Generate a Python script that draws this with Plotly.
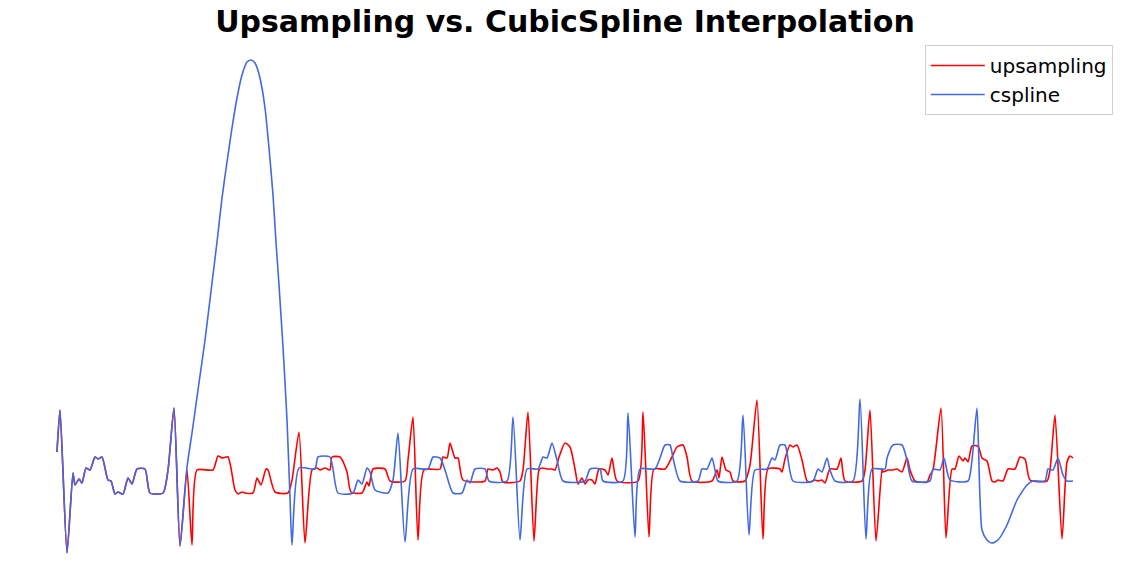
import plotly.graph_objects as go

# Shared opening segment (both methods coincide here)
x_common = [0, 3, 10, 16, 18, 22, 25, 29, 33, 38, 41, 45, 51, 54, 58, 61, 66, 71, 75, 80,
            88, 93, 106, 111, 117, 123]
y_common = [29, 71, -72, 8, -4, 2, -2, 13, 11, 24, 22, 24, 1, 0, -13, -11, -13, 3, -3, 12,
            12, -12, -12, 11, 73, -65]

# upsampling tail
up_x = [130, 135, 140, 156, 161, 165, 171, 178, 181, 185, 188, 196, 200, 204, 209, 211, 218,
        231, 235, 242, 248, 255, 260, 263, 268, 273, 275, 283, 290, 294, 305, 310, 312, 316,
        328, 333, 348, 351, 356, 361, 367, 383, 386, 390, 393, 398, 401, 406, 428, 431, 436,
        440, 443, 446, 463, 466, 471, 477, 482, 485, 490, 495, 498, 502, 508, 513, 518, 521,
        525, 528, 531, 535, 538, 542, 548, 551, 555, 560, 581, 586, 592, 597, 608, 615, 620,
        626, 630, 635, 655, 660, 662, 665, 669, 673, 676, 688, 693, 700, 706, 711, 723, 725,
        728, 733, 736, 740, 745, 750, 753, 758, 761, 765, 768, 773, 780, 784, 788, 805, 808,
        813, 819, 825, 826, 831, 836, 840, 845, 850, 853, 858, 870, 873, 876, 884, 889, 895,
        898, 902, 906, 908, 911, 915, 921, 925, 930, 935, 938, 941, 946, 951, 958, 963, 968,
        973, 990, 993, 998, 1005, 1010, 1013, 1016]
up_y = [11, -64, 11, 11, 25, 23, 24, -9, -13, -11, -12, -12, 3, -4, 12, 11, -11,
        -12, 1, 49, -62, 11, 13, 11, 13, 11, 24, 24, 9, -11, -12, -1, -5, 12,
        12, 0, 0, 21, 64, -59, 11, 12, 24, 23, 38, 23, 23, 1, 0, 12, 11,
        13, 9, -1, 0, 11, 69, -60, 11, 13, 12, 12, 11, 24, 38, 34, 12, -3,
        3, -3, 1, 1, -3, 12, 11, 6, 23, 0, 0, 69, -56, 12, 12, 24, 34,
        36, 24, 0, 0, 11, 3, 24, 11, 9, 0, 0, 16, 81, -58, 12, 12, 9,
        22, 36, 34, 36, 21, 0, -1, 1, 0, 1, -2, 12, 12, 23, 0, 0, 11,
        71, -60, 12, 9, 11, 11, 12, 9, 23, 11, 0, -1, 6, 11, 73, -57, 12,
        12, 25, 20, 23, 19, 35, 35, 23, 20, 0, -1, 1, 0, 12, 12, 24, 22,
        1, 0, 11, 66, -58, 19, 25, 23]

# cubic spline tail
cs_x = [130, 135, 141, 148, 155, 160, 165, 170, 175, 180, 185, 190, 194, 198, 203, 208, 212,
        216, 219, 222, 226, 230, 233, 235, 242,
        258, 261, 273, 281, 296, 301, 305, 310, 313, 318, 331, 336, 341,
        348, 356, 371, 376, 383, 388, 396, 405, 410, 413, 418, 428, 432, 450, 456, 463, 470,
        481, 486, 490, 495, 500, 506, 528, 533, 543, 546, 566, 571, 578, 583, 598, 603, 608,
        613, 616, 623, 641, 645, 650, 655, 658, 661, 680, 686, 692, 698, 710, 715, 718, 723,
        728, 736, 756, 761, 765, 770, 773, 778, 796, 803, 809, 815, 828, 830, 836, 845, 850,
        855, 873, 876, 883, 887, 893, 911, 915, 920, 925, 930, 935, 941, 950, 960, 970, 976,
        988, 991, 996, 1001, 1006, 1010, 1016]
cs_y = [14, 48, 91, 141, 198, 239, 283, 319, 353, 383, 406, 419, 421, 418, 403, 373, 333,
        286, 239, 196, 134, 61, -16, -64, 13,
        12, 24, 24, -12, -12, 1, -3, 13, 9, -9, -12, 1, 48,
        -61, 12, 12, 24, 23, 11, -12, -12, 1, -2, 12, 12, 0, 0, 64, -59, 12,
        12, 24, 23, 38, 21, 0, 0, 12, 12, 0, 0, 68, -56, 12, 12, 23, 36,
        36, 23, 0, 0, 12, 12, 23, 11, 0, 0, 66, -54, 11, 12, 23, 21, 36,
        36, 0, 0, 12, 9, 23, 11, 0, 0, 82, -58, 12, 12, 23, 36, 36, 21,
        0, 0, 12, 11, 23, 1, 0, 21, 73, -49, -59, -62, -59, -44, -19, -4, 0,
        0, 12, 11, 23, 6, 0, 0]

series_names = ["upsampling", "cspline"]
series_colors = ["#ff0000", "#4169e1"]

fig = go.Figure()
fig.add_trace(go.Scatter(
    x=x_common + up_x, y=y_common + up_y, mode="lines", name=series_names[0],
    line=dict(color=series_colors[0], width=1.6, shape="spline", smoothing=0.6)))
fig.add_trace(go.Scatter(
    x=x_common + cs_x, y=y_common + cs_y, mode="lines", name=series_names[1],
    line=dict(color=series_colors[1], width=1.6, shape="spline", smoothing=0.6)))

fig.update_layout(
    width=1130, height=586,
    margin=dict(l=54, r=54, t=57, b=30),
    paper_bgcolor="white", plot_bgcolor="white",
    font=dict(family="DejaVu Sans", color="black"),
    title=dict(text="<b>Upsampling vs. CubicSpline Interpolation</b>",
               x=0.5, xanchor="center", y=1 - 21 / 586, yref="container",
               yanchor="middle", font=dict(size=30, family="DejaVu Sans", color="black")),
    xaxis=dict(visible=False, range=[-3, 1019]),
    yaxis=dict(visible=False, range=[-75, 424]),
    legend=dict(x=1.036, xanchor="right", y=1.024, yanchor="top",
                bordercolor="#d0d0d0", borderwidth=1, bgcolor="rgba(255,255,255,0.85)",
                itemwidth=54,
                font=dict(size=20, family="DejaVu Sans", color="black")),
    showlegend=True,
)

fig.write_html("out.html", config={"displayModeBar": False},
               post_script="document.body.style.margin='0';")
